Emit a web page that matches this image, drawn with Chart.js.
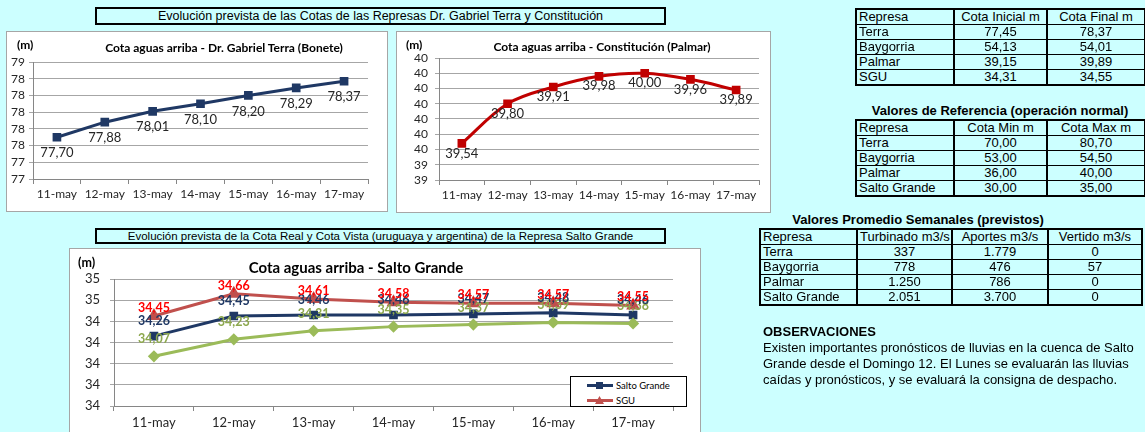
<!DOCTYPE html>
<html><head><meta charset="utf-8">
<script src="https://cdn.jsdelivr.net/npm/chart.js@4.4.1/dist/chart.umd.min.js"></script>
<style>
html,body{margin:0;padding:0;}
body{width:1145px;height:432px;background:#CCFFFF;position:relative;overflow:hidden;font-family:"Liberation Sans",Arial,sans-serif;color:#000;}
.hdr{position:absolute;box-sizing:border-box;border:2px solid #000;background:#CCFFFF;text-align:center;color:#000;white-space:nowrap;}
.box{position:absolute;background:#fff;outline:1px solid #A6A6A6;}
.box canvas{position:absolute;left:0;top:0;}
.ctitle{position:absolute;font-family:Lato,sans-serif;font-weight:bold;color:#000;white-space:nowrap;transform:translate(-50%,-50%);}
.unit{position:absolute;font-family:Lato,sans-serif;font-weight:bold;font-size:12px;line-height:12px;color:#000;}
table{position:absolute;border-collapse:collapse;font-size:13px;border:2px solid #000;table-layout:fixed;}
td{border-left:2px solid #000;border-right:2px solid #000;border-top:1px solid #000;border-bottom:1px solid #000;padding:0 2px;height:14px;line-height:14px;text-align:center;white-space:nowrap;overflow:hidden;}
td:first-child{text-align:left;}
.ttitle{position:absolute;font-weight:bold;font-size:13px;white-space:nowrap;transform:translateX(-50%);}
.legend{position:absolute;background:#fff;border:1px solid #000;box-sizing:border-box;font-family:Lato,sans-serif;font-size:9.5px;}
.legend .row{position:absolute;left:16px;height:12px;display:flex;align-items:center;}
.legend svg{margin-right:3px;}
.obs{position:absolute;left:763px;top:324px;font-size:13px;line-height:16px;white-space:nowrap;}
</style></head>
<body>
<div class="hdr" style="left:95px;top:7px;width:571px;height:18px;font-size:12.5px;line-height:14px;">Evolución prevista de las Cotas de las Represas Dr. Gabriel Terra y Constitución</div>

<div class="box" style="left:7px;top:32px;width:380px;height:179px;">
  <canvas id="c1" width="380" height="179"></canvas>
  <div class="unit" style="left:10px;top:7px;">(m)</div>
  <div class="ctitle" style="left:217px;top:15px;font-size:12px;">Cota aguas arriba - Dr. Gabriel Terra (Bonete)</div>
</div>

<div class="box" style="left:397px;top:32px;width:373px;height:180px;">
  <canvas id="c2" width="373" height="180"></canvas>
  <div class="unit" style="left:9px;top:7px;">(m)</div>
  <div class="ctitle" style="left:205px;top:14px;font-size:12px;">Cota aguas arriba - Constitución (Palmar)</div>
</div>

<div class="hdr" style="left:95px;top:228px;width:571px;height:16px;font-size:11.5px;line-height:12px;">Evolución prevista de la Cota Real y Cota Vista (uruguaya y argentina) de la Represa Salto Grande</div>

<div class="box" style="left:70px;top:249px;width:630px;height:190px;">
  <canvas id="c3" width="630" height="183"></canvas>
  <div class="unit" style="left:8px;top:8px;font-size:12.5px;">(m)</div>
  <div class="ctitle" style="left:286px;top:18px;font-size:15px;">Cota aguas arriba - Salto Grande</div>
  <div class="legend" id="lg" style="left:500px;top:127px;width:117px;height:31px;"></div>
</div>

<table style="left:855px;top:8px;width:291px;" id="t1"></table>
<div class="ttitle" style="left:1000px;top:103px;">Valores de Referencia (operación normal)</div>
<table style="left:855px;top:119px;width:291px;" id="t2"></table>
<div class="ttitle" style="left:918px;top:212px;">Valores Promedio Semanales (previstos)</div>
<table style="left:759px;top:228px;width:384px;" id="t3"></table>

<div class="obs"><b>OBSERVACIONES</b><br>Existen importantes pronósticos de lluvias en la cuenca de Salto<br>Grande desde el Domingo 12. El Lunes se evaluarán las lluvias<br>caídas y pronósticos, y se evaluará la consigna de despacho.</div>

<script>
// ---------- DATA ----------
const days = ['11-may','12-may','13-may','14-may','15-may','16-may','17-may'];
const terraValues = [77.70, 77.88, 78.01, 78.10, 78.20, 78.29, 78.37];
const palmarValues = [39.54, 39.80, 39.91, 39.98, 40.00, 39.96, 39.89];
const saltoGrandeValues = [34.26, 34.45, 34.46, 34.46, 34.47, 34.48, 34.46];
const sguValues = [34.45, 34.66, 34.61, 34.58, 34.57, 34.57, 34.55];
const cotaVistaValues = [34.07, 34.23, 34.31, 34.35, 34.37, 34.39, 34.38];
// tick labels, bottom to top
const terraTickLabels = ['77','77','78','78','78','78','78','79'];
const palmarTickLabels = ['39','39','40','40','40','40','40','40','40'];
const saltoTickLabels = ['34','34','34','34','34','35','35'];
const saltoSeriesNames = ['Salto Grande','SGU','Cota Vista'];

const cotaHeaders = ['Represa','Cota Inicial m','Cota Final m'];
const cotaRepresas = ['Terra','Baygorria','Palmar','SGU'];
const cotaInicial = ['77,45','54,13','39,15','34,31'];
const cotaFinal = ['78,37','54,01','39,89','34,55'];

const refHeaders = ['Represa','Cota Min m','Cota Max m'];
const refRepresas = ['Terra','Baygorria','Palmar','Salto Grande'];
const refMin = ['70,00','53,00','36,00','30,00'];
const refMax = ['80,70','54,50','40,00','35,00'];

const promHeaders = ['Represa','Turbinado m3/s','Aportes m3/s','Vertido m3/s'];
const promRepresas = ['Terra','Baygorria','Palmar','Salto Grande'];
const turbinado = ['337','778','1.250','2.051'];
const aportes = ['1.779','476','786','3.700'];
const vertido = ['0','57','0','0'];

// ---------- TABLES ----------
function buildTable(id, headers, cols, widths){
  const t = document.getElementById(id);
  let html = '<colgroup>' + widths.map(w=>'<col style="width:'+w+'px">').join('') + '</colgroup>';
  html += '<tr>' + headers.map(h=>'<td>'+h+'</td>').join('') + '</tr>';
  for (let r=0;r<cols[0].length;r++){
    html += '<tr>' + cols.map(c=>'<td>'+c[r]+'</td>').join('') + '</tr>';
  }
  t.innerHTML = html;
}
buildTable('t1', cotaHeaders, [cotaRepresas, cotaInicial, cotaFinal], [98,93,98]);
buildTable('t2', refHeaders, [refRepresas, refMin, refMax], [98,93,98]);
buildTable('t3', promHeaders, [promRepresas, turbinado, aportes, vertido], [97,95,96,94]);

// ---------- CHARTS ----------
const fmt = v => v.toFixed(2).replace('.', ',');
const valueLabels = {
  id: 'valueLabels',
  afterDatasetsDraw(chart){
    const ctx = chart.ctx;
    chart.data.datasets.forEach((ds, i) => {
      const st = ds.labelStyle; if (!st) return;
      const meta = chart.getDatasetMeta(i);
      ctx.save();
      ctx.font = st.font; ctx.fillStyle = st.color;
      ctx.textAlign = 'center'; ctx.textBaseline = 'middle';
      meta.data.forEach((pt, j) => {
        ctx.fillText(fmt(ds.data[j]), pt.x + (st.dx || 0), pt.y + st.dy);
      });
      ctx.restore();
    });
  }
};
const GRID = '#A6A6A6';
function xScale(h, fontSize, pad){
  return {
    offset: true,
    grid: {offset: true, drawOnChartArea: false, drawTicks: true, tickLength: 5, color: '#868686'},
    border: {display: true, color: '#868686'},
    ticks: {font: {family: 'Lato', size: fontSize}, color: '#262626', padding: pad, maxRotation: 0, autoSkip: false},
    afterFit: s => { s.height = h; }
  };
}
function yScale(w, min, max, step, labels, fontSize, pad){
  return {
    min: min, max: max,
    grid: {color: GRID, tickLength: 4, drawTicks: true},
    border: {display: true, color: '#868686'},
    ticks: {stepSize: step, autoSkip: false, font: {family: 'Lato', size: fontSize}, color: '#262626', padding: pad,
      callback: (v, i) => labels[i]},
    afterFit: s => { s.width = w; }
  };
}
const baseOpts = {responsive: false, animation: false, events: [],
  plugins: {legend: {display: false}, tooltip: {enabled: false}, title: {display: false}}};

new Chart(document.getElementById('c1'), {
  type: 'line',
  data: {labels: days, datasets: [{
    label: 'Terra', data: terraValues, borderColor: '#1F3864', backgroundColor: '#1F3864',
    borderWidth: 3, pointStyle: 'rect', pointRadius: 4, tension: 0,
    labelStyle: {font: '13px Lato', color: '#262626', dy: 16}
  }]},
  options: Object.assign({}, baseOpts, {
    layout: {padding: {top: 30, right: 19, left: 0, bottom: 0}},
    scales: {x: xScale(32, 12, 3), y: yScale(26, 77.2, 78.6, 0.2, terraTickLabels, 12, 4)}
  }),
  plugins: [valueLabels]
});

new Chart(document.getElementById('c2'), {
  type: 'line',
  data: {labels: days, datasets: [{
    label: 'Palmar', data: palmarValues, borderColor: '#C00000', backgroundColor: '#C00000',
    borderWidth: 3, pointStyle: 'rect', pointRadius: 4, tension: 0.35,
    labelStyle: {font: '13px Lato', color: '#262626', dy: 10}
  }]},
  options: Object.assign({}, baseOpts, {
    layout: {padding: {top: 26, right: 11, left: 0, bottom: 0}},
    scales: {x: xScale(32, 12, 3), y: yScale(42, 39.3, 40.1, 0.1, palmarTickLabels, 12, 7)}
  }),
  plugins: [valueLabels]
});

const saltoColors = ['#1F3864', '#C0504D', '#9BBB59'];
const saltoMarkers = ['rect', 'triangle', 'rectRot'];
const saltoLabelColors = ['#1F3864', '#FF0000', '#8DA84E'];
const saltoLabelDy = [-15, -8, -17];
const saltoData = [saltoGrandeValues, sguValues, cotaVistaValues];
new Chart(document.getElementById('c3'), {
  type: 'line',
  data: {labels: days, datasets: [2, 0, 1].map(k => ({
    label: saltoSeriesNames[k], data: saltoData[k], borderColor: saltoColors[k], backgroundColor: saltoColors[k],
    borderWidth: 3, pointStyle: saltoMarkers[k], pointRadius: k === 1 ? 5 : 4, tension: 0,
    labelStyle: {font: 'bold 12.5px Lato', color: saltoLabelColors[k], dy: saltoLabelDy[k]}
  }))},
  options: Object.assign({}, baseOpts, {
    layout: {padding: {top: 30, right: 27, left: 0, bottom: 0}},
    scales: {x: xScale(26, 13, 4), y: yScale(44, 33.6, 34.8, 0.2, saltoTickLabels, 13, 10)}
  }),
  plugins: [valueLabels]
});

// legend (only the first two series, as in the original)
const lg = document.getElementById('lg');
[0, 1].forEach((k, r) => {
  const marker = k === 0
    ? '<rect x="9" y="2" width="7" height="7" fill="' + saltoColors[k] + '"/>'
    : '<polygon points="12.5,1 17,9 8,9" fill="' + saltoColors[k] + '"/>';
  const row = document.createElement('div');
  row.className = 'row';
  row.style.top = (2 + r * 15) + 'px';
  row.innerHTML = '<svg width="26" height="11"><line x1="0" y1="5.5" x2="26" y2="5.5" stroke="' + saltoColors[k] + '" stroke-width="3"/>' + marker + '</svg><span>' + saltoSeriesNames[k] + '</span>';
  lg.appendChild(row);
});
</script>
</body></html>
